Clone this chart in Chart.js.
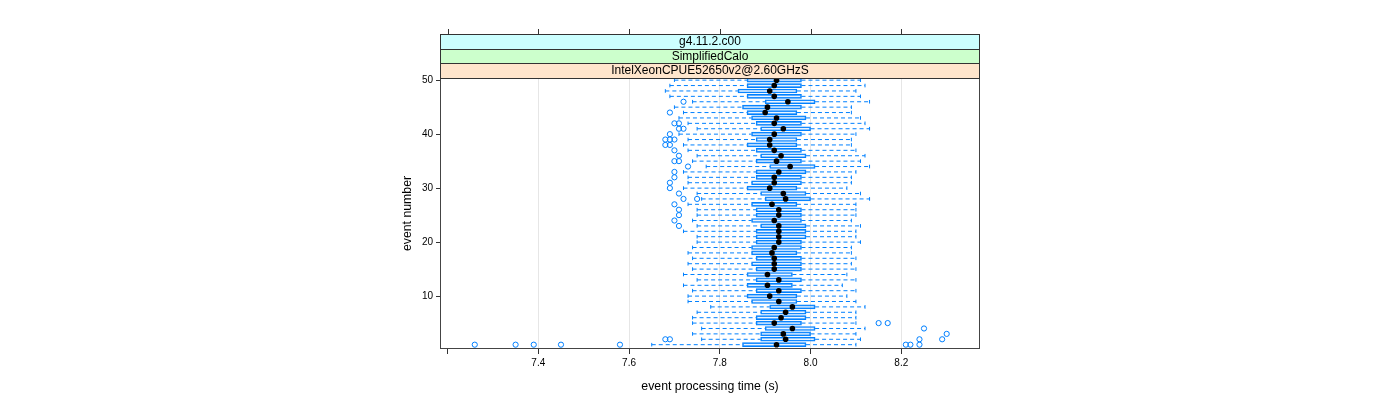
<!DOCTYPE html>
<html><head><meta charset="utf-8">
<script src="https://cdn.jsdelivr.net/npm/chart.js@4.4.1/dist/chart.umd.min.js"></script>
<style>html,body{margin:0;padding:0;background:#fff;} canvas{display:block;}</style>
</head><body>
<canvas id="c" width="1400" height="400"></canvas>
<script>
// ---- data (index 0 = event 1) ----
const events = [1,2,3,4,5,6,7,8,9,10,11,12,13,14,15,16,17,18,19,20,21,22,23,24,25,26,27,28,29,30,31,32,33,34,35,36,37,38,39,40,41,42,43,44,45,46,47,48,49,50];
const whiskerLow = [7.65,7.76,7.74,7.76,7.74,7.74,7.75,7.78,7.73,7.73, 7.74,7.72,7.75,7.72,7.74,7.73,7.74,7.73,7.74,7.75, 7.75,7.72,7.75,7.74,7.75,7.75,7.73,7.76,7.75,7.72, 7.73,7.73,7.72,7.77,7.74,7.75,7.73,7.72,7.73,7.71, 7.75,7.73,7.71,7.72,7.70,7.74,7.69,7.68,7.69,7.70];
const q1 = [7.85,7.89,7.89,7.90,7.88,7.88,7.89,7.91,7.87,7.86, 7.88,7.86,7.88,7.86,7.88,7.87,7.88,7.87,7.87,7.88, 7.88,7.88,7.89,7.87,7.88,7.88,7.87,7.90,7.89,7.86, 7.87,7.88,7.88,7.91,7.88,7.89,7.88,7.86,7.88,7.87, 7.89,7.88,7.87,7.86,7.85,7.90,7.86,7.84,7.86,7.86];
const median = [7.925,7.945,7.94,7.96,7.92,7.935,7.945,7.96,7.93,7.91, 7.93,7.905,7.93,7.905,7.92,7.92,7.92,7.915,7.92,7.93, 7.93,7.93,7.93,7.92,7.93,7.93,7.915,7.945,7.94,7.91, 7.92,7.92,7.93,7.955,7.925,7.935,7.92,7.91,7.91,7.92, 7.94,7.92,7.925,7.90,7.905,7.95,7.92,7.91,7.92,7.925];
const q3 = [7.99,8.01,8.00,8.01,7.98,7.99,7.99,8.01,7.97,7.97, 7.98,7.96,7.98,7.96,7.98,7.98,7.98,7.97,7.98,7.98, 7.99,7.99,7.99,7.98,7.98,7.98,7.97,8.00,7.99,7.97, 7.98,7.98,7.99,8.01,7.98,7.99,7.98,7.97,7.97,7.98, 8.00,7.98,7.99,7.97,7.98,8.01,7.98,7.97,7.98,7.98];
const whiskerHigh = [8.10,8.11,8.10,8.12,8.10,8.10,8.10,8.12,8.10,8.08, 8.10,8.07,8.10,8.08,8.10,8.09,8.10,8.09,8.09,8.11, 8.10,8.10,8.11,8.09,8.10,8.10,8.10,8.13,8.11,8.08, 8.09,8.09,8.10,8.13,8.11,8.12,8.10,8.09,8.09,8.10, 8.13,8.12,8.11,8.09,8.09,8.13,8.11,8.10,8.12,8.11];
const outlierEvents = [1,1,1,1,1,1,1,1, 2,2,2,2, 3, 4, 5,5, 23,24,25,26,27,28,28,29,30,31,32,33,34,35,35,36,37,38,38,39,39,39,40,41,41,42,42,44,46];
const outlierTimes  = [7.26,7.35,7.39,7.45,7.58,8.21,8.22,8.24, 7.68,7.69,8.24,8.29, 8.30, 8.25, 8.15,8.17, 7.71,7.70,7.71,7.71,7.70,7.72,7.75,7.71,7.69,7.69,7.70,7.70,7.73,7.70,7.71,7.71,7.70,7.68,7.69,7.68,7.69,7.70,7.69,7.71,7.72,7.70,7.71,7.69,7.72];
const xTicks = [7.2,7.4,7.6,7.8,8.0,8.2];
const yTicks = [10,20,30,40,50];
const stripLabels = ["g4.11.2.c00","SimplifiedCalo","IntelXeonCPUE52650v2@2.60GHzS"];
const stripColors = ["#ccffff","#ccffcc","#ffe5cc"];

// ---- derived datasets ----
const boxData = events.map((e,i)=>({x:[q1[i],q3[i]], y:e}));
const whiskerData = [];
events.forEach((e,i)=>{
  whiskerData.push({x:whiskerLow[i],y:e},{x:q1[i],y:e},{x:null,y:null},
                   {x:q3[i],y:e},{x:whiskerHigh[i],y:e},{x:null,y:null});
});
const capData = [];
events.forEach((e,i)=>{ capData.push({x:whiskerLow[i],y:e},{x:whiskerHigh[i],y:e}); });
const medianData = events.map((e,i)=>({x:median[i],y:e}));
const outlierData = outlierEvents.map((e,i)=>({x:outlierTimes[i],y:e}));

Chart.defaults.font.family = '"Liberation Sans", Arial, Helvetica, sans-serif';
Chart.defaults.color = '#000';

const BLUE = '#0080ff';

const deco = {
  id:'deco',
  beforeDraw(chart){
    const c = chart.ctx; c.save(); c.fillStyle='#fff'; c.fillRect(0,0,chart.width,chart.height); c.restore();
  },
  afterDraw(chart){
    const c = chart.ctx, a = chart.chartArea, xs = chart.scales.x;
    c.save();
    c.strokeStyle = '#444'; c.lineWidth = 1;
    c.strokeRect(a.left+0.5, a.top+0.5, a.right-a.left-1, a.bottom-a.top-1);
    const stripH = 14.67, stripTop = a.top - 3*stripH;
    c.font = '12px "Liberation Sans", Arial, sans-serif';
    c.textAlign='center'; c.textBaseline='middle';
    for (let s=0;s<3;s++){
      const y0 = Math.round(stripTop + s*stripH), y1 = Math.round(stripTop+(s+1)*stripH);
      c.fillStyle = stripColors[s];
      c.fillRect(a.left, y0, a.right-a.left, y1-y0);
      c.strokeStyle = '#333';
      c.strokeRect(a.left+0.5, y0+0.5, a.right-a.left-1, y1-y0);
      c.fillStyle = '#000';
      c.fillText(stripLabels[s], (a.left+a.right)/2, (y0+y1)/2+0.5);
    }
    c.strokeStyle = '#333';
    const topY = Math.round(stripTop);
    xTicks.forEach(v=>{
      const px = Math.round(xs.getPixelForValue(v))+0.5;
      c.beginPath(); c.moveTo(px, topY); c.lineTo(px, topY-5); c.stroke();
    });
    c.restore();
  }
};

new Chart(document.getElementById('c'), {
  type:'scatter',
  data:{ datasets:[
    { type:'scatter', label:'median', data:medianData, order:0,
      pointRadius:2.8, pointBackgroundColor:'#000', pointBorderWidth:0, pointHoverRadius:2.8 },
    { type:'scatter', label:'outliers', data:outlierData, order:1,
      pointRadius:2.6, pointBackgroundColor:'rgba(0,0,0,0)', pointBorderColor:BLUE, pointBorderWidth:1 },
    { type:'bar', label:'box', data:boxData, order:2, indexAxis:'y',
      backgroundColor:'rgba(170,210,255,0.25)', borderColor:BLUE, borderWidth:1, borderSkipped:false,
      barThickness:4, grouped:false },
    { type:'line', label:'whiskers', data:whiskerData, order:3, indexAxis:'x',
      borderColor:BLUE, borderWidth:1, borderDash:[4,3], pointRadius:0, spanGaps:false, fill:false, tension:0 },
    { type:'scatter', label:'caps', data:capData, order:3,
      pointStyle:'line', rotation:90, pointRadius:1.8, pointBorderColor:BLUE, pointBorderWidth:1 }
  ]},
  options:{
    responsive:false, animation:false, devicePixelRatio:1,
    layout:{ padding:{ left:400, right:420, top:78, bottom:0 } },
    plugins:{ legend:{display:false}, tooltip:{enabled:false} },
    scales:{
      x:{ type:'linear', position:'bottom', min:7.1834, max:8.3734, offset:false,
        afterBuildTicks(s){ s.ticks = xTicks.map(v=>({value:v})); },
        afterFit(s){ s.height = 51; },
        ticks:{ font:{size:10}, padding:3, maxRotation:0, autoSkip:false,
          callback:(v)=> v===7.2 ? '' : Number(v).toFixed(1) },
        grid:{ offset:false, color:(ctx)=> (ctx.tick && Math.abs(ctx.tick.value-7.2)<1e-6) ? 'rgba(0,0,0,0)' : '#e6e6e6',
          tickColor:'#333', tickLength:5, drawTicks:true },
        border:{ display:false },
        title:{ display:true, text:'event processing time (s)', font:{size:12.3}, padding:{top:0,bottom:6} }
      },
      y:{ type:'linear', position:'left', min:0.2, max:50.4, offset:false,
        afterBuildTicks(s){ s.ticks = yTicks.map(v=>({value:v})); },
        afterFit(s){ s.width = 40; },
        ticks:{ font:{size:10}, padding:3, autoSkip:false },
        grid:{ offset:false, drawOnChartArea:false, tickColor:'#333', tickLength:4, drawTicks:true },
        border:{ display:false },
        title:{ display:true, text:'event number', font:{size:12.3}, padding:{top:0,bottom:0} }
      }
    }
  },
  plugins:[deco]
});
</script>
</body></html>
